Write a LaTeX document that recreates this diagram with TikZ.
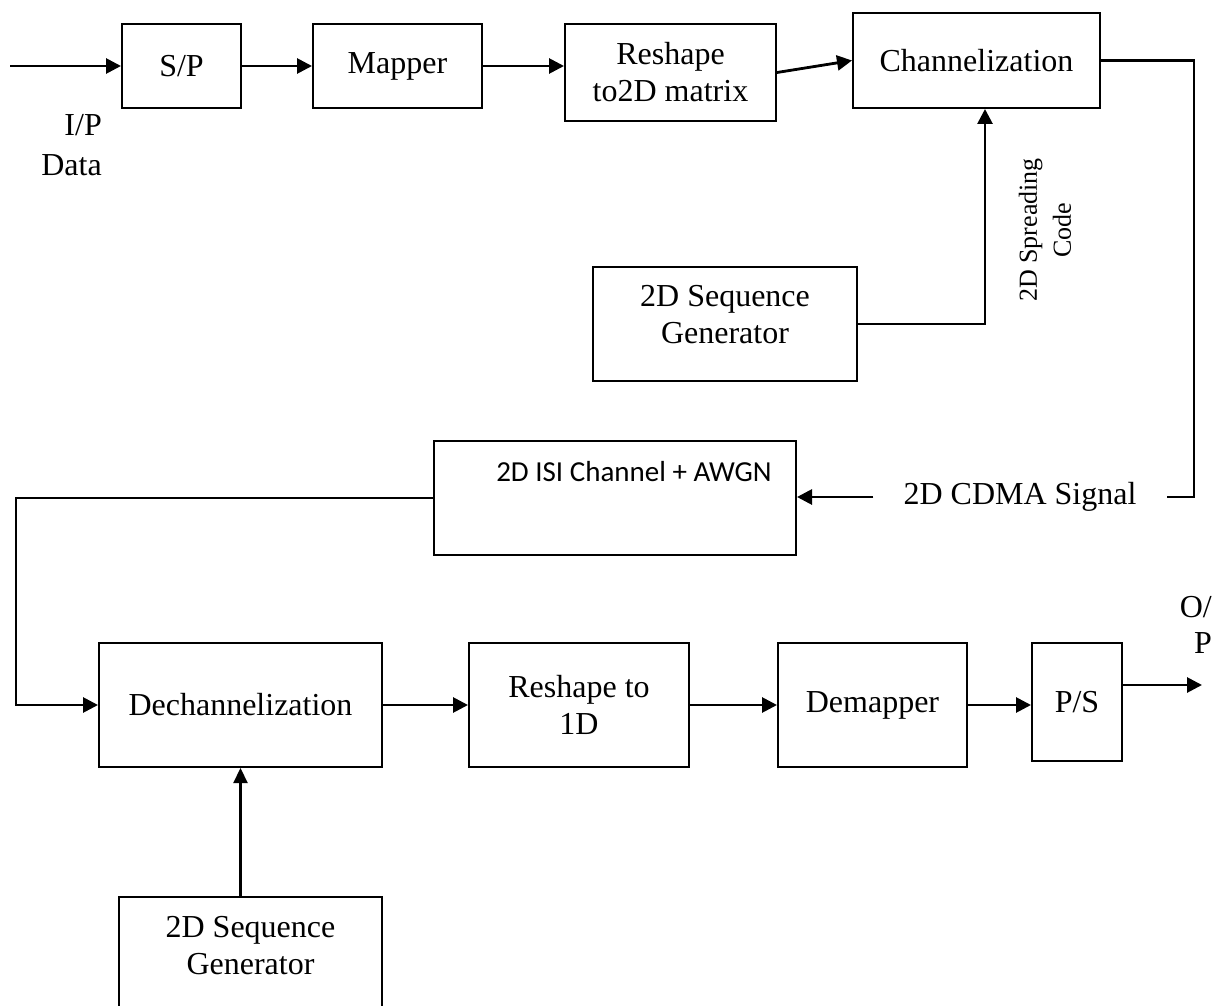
\documentclass[tikz,border=0pt]{standalone}
\usepackage{fontspec}
\setmainfont{Liberation Serif}
\newfontfamily\boxsans{Carlito}
\usetikzlibrary{arrows.meta}
\begin{document}
\begin{tikzpicture}[x=1pt,y=-1pt,
  box/.style={draw, line width=2pt, inner sep=0pt, align=center,
              font=\fontsize{32}{37}\selectfont},
  lbl/.style={inner sep=0pt, align=center, font=\fontsize{32}{37}\selectfont},
  arr/.style={line width=2.8pt, -{Triangle[length=15pt,width=15pt]}},
  thinarr/.style={line width=2.2pt, -{Triangle[length=15pt,width=14pt]}},
  wire/.style={line width=2.2pt}]
\useasboundingbox[fill=white] (0,0) rectangle (1216,1006);

% transmitter chain
\node[box, minimum width=119pt, minimum height=84pt] (sp)   at (181.5,66)  {S/P};
\node[box, minimum width=169pt, minimum height=84pt] (map)  at (397.5,66)  {Mapper};
\node[box, minimum width=211pt, minimum height=97pt] (r2d)  at (670.5,72.5) {Reshape\\to2D matrix};
\node[box, minimum width=247pt, minimum height=95pt] (chan) at (976.5,60.5) {Channelization};

% spreading code source
\node[box, minimum width=264pt, minimum height=114pt] (seqA) at (725,324) {};
\node[lbl] (seqAtxt) at (725,315) {2D Sequence\\Generator};
\node[inner sep=0pt, align=center, rotate=90,
      font=\fontsize{26}{34}\selectfont] (spread) at (1045,230) {2D Spreading\\Code};

% channel
\node[box, minimum width=362pt, minimum height=114pt] (isi) at (615,498) {};
\node[inner sep=0pt, font=\boxsans\fontsize{29}{34}\selectfont] (isitxt) at (634,472)
     {2D ISI Channel + AWGN};
\node[lbl, inner xsep=30pt] (cdma) at (1020,497) {2D CDMA Signal};

% receiver chain
\node[box, minimum width=283pt, minimum height=124pt] (dechan) at (240.5,705) {Dechannelization};
\node[box, minimum width=220pt, minimum height=124pt] (r1d)    at (579,705)   {Reshape to\\1D};
\node[box, minimum width=189pt, minimum height=124pt] (dem)    at (872.5,705) {Demapper};
\node[box, minimum width=90pt,  minimum height=118pt] (ps)     at (1077,702)  {P/S};
\node[box, minimum width=263pt, minimum height=113pt] (seqB)   at (250.5,953.5) {};
\node[lbl] (seqBtxt) at (250.5,946) {2D Sequence\\Generator};

% input / output labels
\node[lbl, align=right, anchor=east, font=\fontsize{32}{40}\selectfont] (ipd) at (102,145) {I/P\\Data};
\node[lbl, align=right, anchor=east, font=\fontsize{32}{36}\selectfont] (opd) at (1212,625) {O/\\P};

% connectors
\coordinate (in)  at (10,66);
\coordinate (cr)  at (1194,60.5);
\coordinate (cb)  at (1194,497);
\coordinate (spr) at (985,324);
\coordinate (lt)  at (16,498);
\coordinate (lb)  at (16,705);
\coordinate (out) at (1202,685);

\draw[arr] (in) -- (sp.west);
\draw[arr] (sp.east) -- (map.west);
\draw[arr] (map.east) -- (map.east -| r2d.west);
\draw[arr] (r2d.east) -- (chan.west);
\draw[arr] (seqA.east) -- (spr) -- (spr |- chan.south);
\draw[wire] (chan.east) -- (cr) -- (cb) -- (cdma.east);
\draw[arr] (cdma.west) -- (cdma.west -| isi.east);
\draw[wire] (isi.west) -- (lt) -- (lb) -- (30,705);
\draw[arr] (30,705) -- (dechan.west);
\draw[arr] (dechan.east) -- (r1d.west);
\draw[arr] (r1d.east) -- (dem.west);
\draw[arr] (dem.east) -- (dem.east -| ps.west);
\draw[arr] (out -| ps.east) -- (out);
\draw[thinarr] (seqB.north -| dechan.south) -- (dechan.south);
\end{tikzpicture}
\end{document}
